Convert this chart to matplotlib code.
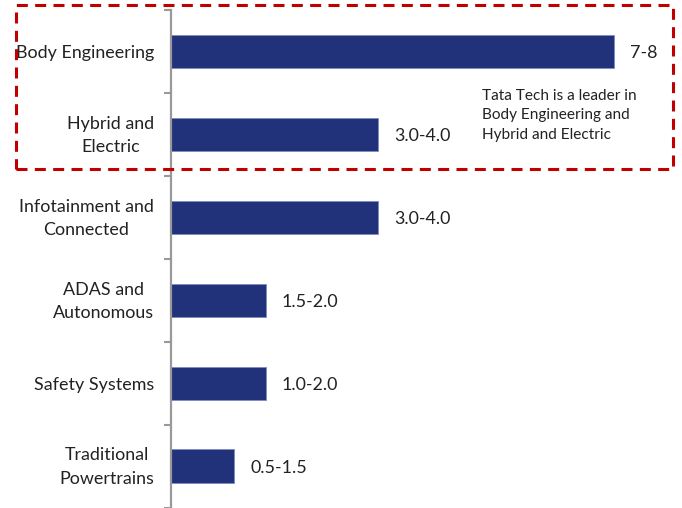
import matplotlib
matplotlib.use("Agg")
import matplotlib.pyplot as plt
from matplotlib.patches import Rectangle
from matplotlib.ticker import FixedLocator, NullFormatter

plt.rcParams['font.family'] = ['Lato', 'DejaVu Sans']

categories = ["Body Engineering", "Hybrid and\nElectric", "Infotainment and\nConnected",
              "ADAS and\nAutonomous", "Safety Systems", "Traditional\nPowertrains"]
values = [7.5, 3.5, 3.5, 1.6, 1.6, 1.07]
range_labels = ["7-8", "3.0-4.0", "3.0-4.0", "1.5-2.0", "1.0-2.0", "0.5-1.5"]
note = "Tata Tech is a leader in\nBody Engineering and\nHybrid and Electric"

W, H = 682, 508
fig = plt.figure(figsize=(W / 100, H / 100), dpi=100)

ax_left, ax_top, ax_bottom = 171, 10, 507.5
ax = fig.add_axes([ax_left / W, (H - ax_bottom) / H, (W - ax_left) / W, (ax_bottom - ax_top) / H])

n = len(categories)
pos = list(range(n))
ax.barh(pos, values, height=0.4, color="#21317a", edgecolor="#7f8cc0", linewidth=0.6, zorder=2)
ax.set_ylim(n - 0.5, -0.5)
ax.set_xlim(0, (W - ax_left) / 59.1)

for p, v, lab in zip(pos, values, range_labels):
    ax.annotate(lab, (v, p), xytext=(16, -2), textcoords="offset pixels",
                va="center", ha="left", fontsize=12.9, color="#222222")

# category names, right-aligned against the axis
ylab = ax.get_yaxis_transform()
for p, name in zip(pos, categories):
    dy = -1 if "\n" in name else -2
    ax.annotate(name, (0, p), xycoords=ylab, xytext=(-17, dy), textcoords="offset pixels",
                ha="right", va="center", multialignment="center", linespacing=1.55,
                fontsize=12.9, color="#222222", annotation_clip=False)

ax.set_yticks(pos)
ax.yaxis.set_major_formatter(NullFormatter())
ax.yaxis.set_minor_locator(FixedLocator([i - 0.5 for i in range(n + 1)]))
ax.tick_params(axis="y", which="major", length=0)
ax.tick_params(axis="y", which="minor", length=5, width=1.5, color="#999999", direction="out")
ax.set_xticks([])

for side in ("top", "right", "bottom"):
    ax.spines[side].set_visible(False)
ax.spines["left"].set_color("#999999")
ax.spines["left"].set_linewidth(1.6)

# annotation box around the leading segments
x0, y0, x1, y1 = 15.5, 5, 672.5, 169
box = Rectangle((x0 / W, 1 - y1 / H), (x1 - x0) / W, (y1 - y0) / H,
                transform=fig.transFigure, fill=False, edgecolor="#c00000",
                linewidth=2.2, linestyle=(0, (3.6, 2.4)), zorder=5)
fig.add_artist(box)

fig.text(482 / W, 1 - 89 / H, note, fontsize=11.1, color="#222222", va="top", ha="left",
         linespacing=1.48)

fig.savefig("out.png", dpi=100)
